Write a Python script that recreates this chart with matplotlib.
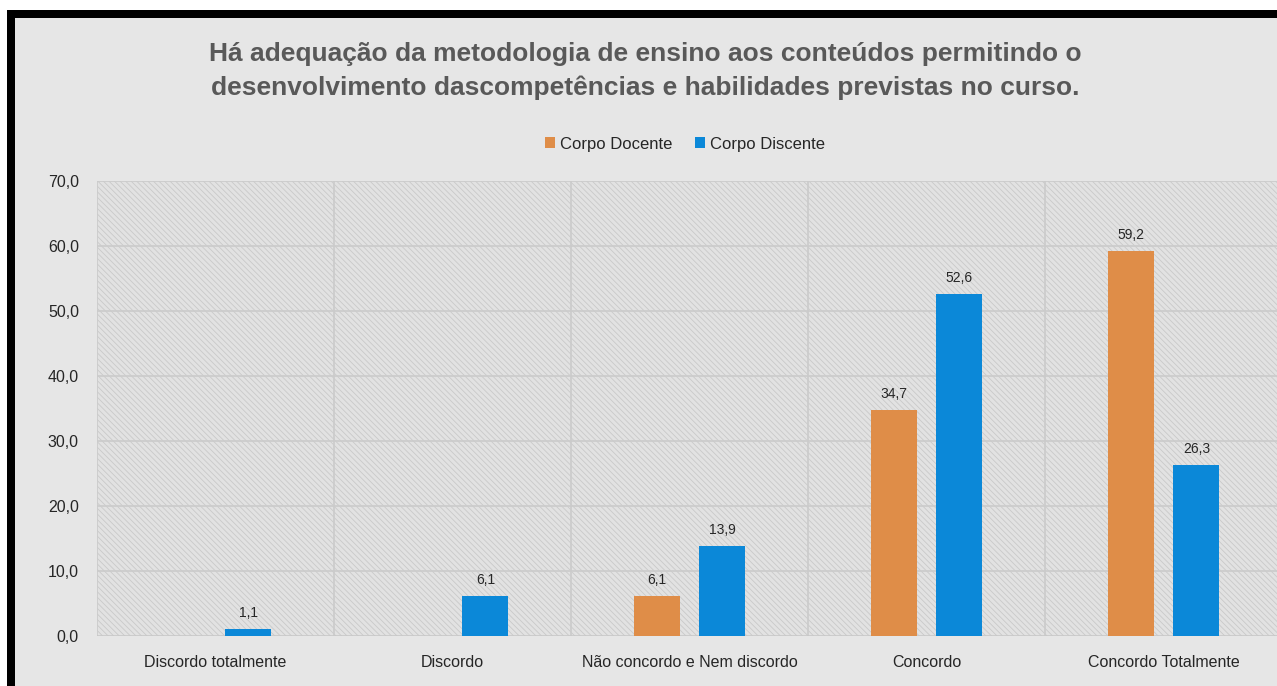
import matplotlib
matplotlib.use("Agg")
import matplotlib.pyplot as plt
from matplotlib import font_manager
from matplotlib.patches import Rectangle, Patch
import numpy as np

categories = ["Discordo totalmente", "Discordo", "Não concordo e Nem discordo", "Concordo", "Concordo Totalmente"]
docente = [0.0, 0.0, 6.1, 34.7, 59.2]
discente = [1.1, 6.1, 13.9, 52.6, 26.3]
series_names = ["Corpo Docente", "Corpo Discente"]
yticks = [0, 10, 20, 30, 40, 50, 60, 70]
title = "Há adequação da metodologia de ensino aos conteúdos permitindo o\ndesenvolvimento dascompetências e habilidades previstas no curso."

names = {f.name for f in font_manager.fontManager.ttflist}
narrow = "Liberation Sans Narrow" if "Liberation Sans Narrow" in names else "Liberation Sans"

W, H = 1277, 686
fig = plt.figure(figsize=(W / 100, H / 100), dpi=100)
fig.patch.set_facecolor("white")
fig.patches.append(Rectangle((7 / W, 0), 1, 1 - 10 / H, transform=fig.transFigure, facecolor="black", edgecolor="none", zorder=-3))
fig.patches.append(Rectangle((15 / W, 0), 1, 1 - 18 / H, transform=fig.transFigure, facecolor="#e6e6e6", edgecolor="none", zorder=-2))

left, right, bottom, top = 97 / W, 1282 / W, 1 - 636 / H, 1 - 181 / H
ax = fig.add_axes([left, bottom, right - left, top - bottom])
ax.set_facecolor("#e2e2e2")
plt.rcParams["hatch.color"] = "#c9c9c9"
plt.rcParams["hatch.linewidth"] = 0.6
ax.add_patch(Rectangle((0, 0), 1, 1, transform=ax.transAxes, facecolor="#e2e2e2", edgecolor="#c9c9c9", hatch="\\\\\\\\\\\\", linewidth=0, zorder=0))

x = np.arange(len(categories))
bw = 0.194
off = 0.139
b1 = ax.bar(x - off, docente, bw, color="#df8d48", zorder=3)
b2 = ax.bar(x + off, discente, bw, color="#0b88d8", zorder=3)

for bars, vals in ((b1, docente), (b2, discente)):
    for r, v in zip(bars, vals):
        if v > 0:
            ax.text(r.get_x() + r.get_width() / 2, v + 1.4, f"{v:.1f}".replace(".", ","), ha="center", va="bottom",
                    fontsize=10, family=narrow, color="#262626", zorder=4)

ax.set_xlim(-0.5, len(categories) - 0.5)
ax.set_ylim(0, 70)
ax.set_yticks(yticks)
ax.set_yticklabels([f"{t:.1f}".replace(".", ",") for t in yticks], family=narrow, fontsize=11.5, color="#262626")
ax.set_xticks(x)
ax.set_xticklabels(categories, family=narrow, fontsize=11.5, color="#262626")
ax.tick_params(length=0)
ax.tick_params(axis="x", pad=14)
ax.tick_params(axis="y", pad=13)
for t in yticks[1:]:
    ax.axhline(t, color="#cbcbcb", linewidth=1.2, zorder=1)
for b in np.arange(-0.5, len(categories), 1.0):
    ax.axvline(b, color="#cbcbcb", linewidth=1.2, zorder=1)
ax.axhline(0, color="#c8c8c8", linewidth=1.2, zorder=2)
for s in ax.spines.values():
    s.set_visible(False)

fig.text(645 / W, 1 - 71 / H, title, ha="center", va="center", fontsize=19, fontweight="bold",
         family="Liberation Sans", color="#595959", linespacing=1.45)

handles = [Patch(facecolor="#df8d48", label=series_names[0]), Patch(facecolor="#0b88d8", label=series_names[1])]
fig.legend(handles=handles, loc="center", bbox_to_anchor=(685 / W, 1 - 144 / H), ncol=2, frameon=False,
           prop={"family": narrow, "size": 12}, handlelength=0.6, handleheight=0.6, handletextpad=0.25,
           columnspacing=1.4, labelcolor="#262626")

fig.savefig("out.png", dpi=100, facecolor=fig.get_facecolor())
